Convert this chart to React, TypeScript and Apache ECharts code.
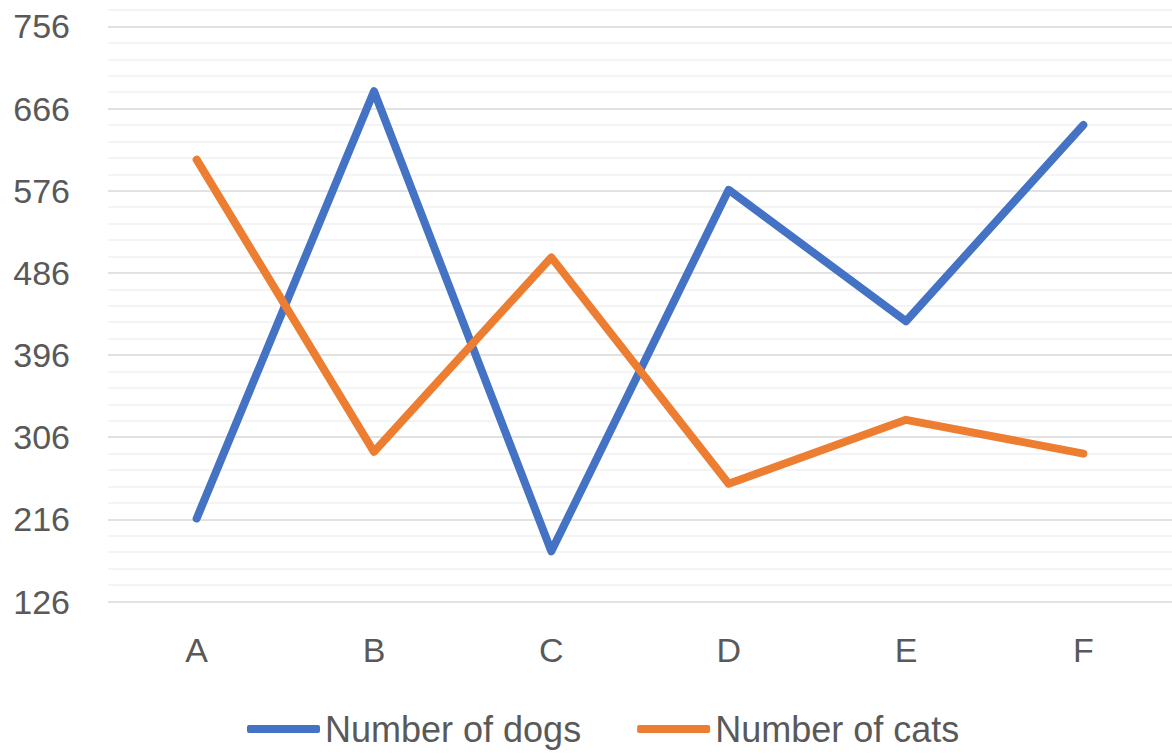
import React, { useEffect, useRef } from "react";
import * as echarts from "echarts";

const categories = ["A", "B", "C", "D", "E", "F"];
const dogs = [217, 685, 181, 577, 433, 648];
const cats = [610, 290, 503, 255, 325, 288];
const yMin = 126;
const yMax = 774;
const yMinorStep = 18;
const yLabelStep = 90;

export default function App() {
  const ref = useRef<HTMLDivElement>(null);
  useEffect(() => {
    document.body.style.margin = "0";
    const chart = echarts.init(ref.current!, null, { renderer: "svg" });
    const font = "Liberation Sans, Arial, sans-serif";
    const majorColor = "#d9d9d9";
    const minorColor = "#f0f0f0";
    chart.setOption({
      animation: false,
      backgroundColor: "#ffffff",
      textStyle: { fontFamily: font },
      grid: { left: 108, right: -2, top: 10, bottom: 152.5 },
      legend: {
        left: 242,
        top: 706,
        icon: "roundRect",
        itemWidth: 73,
        itemHeight: 8,
        itemGap: 56,
        textStyle: { fontSize: 36, color: "#595959", fontFamily: font },
        data: ["Number of dogs", "Number of cats"],
      },
      xAxis: {
        type: "category",
        data: categories,
        boundaryGap: true,
        axisLine: { show: false },
        axisTick: { show: false },
        axisLabel: { fontSize: 34, color: "#595959", margin: 31, fontFamily: font },
        splitLine: { show: false },
      },
      yAxis: {
        type: "value",
        min: yMin,
        max: yMax,
        interval: yMinorStep,
        axisLine: { show: false },
        axisTick: { show: false },
        axisLabel: {
          fontSize: 34,
          color: "#595959",
          margin: 38,
          fontFamily: font,
          formatter: (v: number) =>
            (v - yMin) % yLabelStep === 0 && v < yMax ? String(v) : "",
        },
        splitLine: {
          show: true,
          lineStyle: {
            width: 1.5,
            color: [majorColor, minorColor, minorColor, minorColor, minorColor],
          },
        },
      },
      series: [
        {
          name: "Number of dogs",
          type: "line",
          data: dogs,
          symbol: "none",
          color: "#4472C4",
          lineStyle: { width: 8, color: "#4472C4", cap: "round", join: "round" },
        },
        {
          name: "Number of cats",
          type: "line",
          data: cats,
          symbol: "none",
          color: "#ED7D31",
          lineStyle: { width: 8, color: "#ED7D31", cap: "round", join: "round" },
        },
      ],
    });
    return () => chart.dispose();
  }, []);
  return (
    <div
      ref={ref}
      style={{ position: "absolute", left: 0, top: 0, width: 1172, height: 754 }}
    />
  );
}
